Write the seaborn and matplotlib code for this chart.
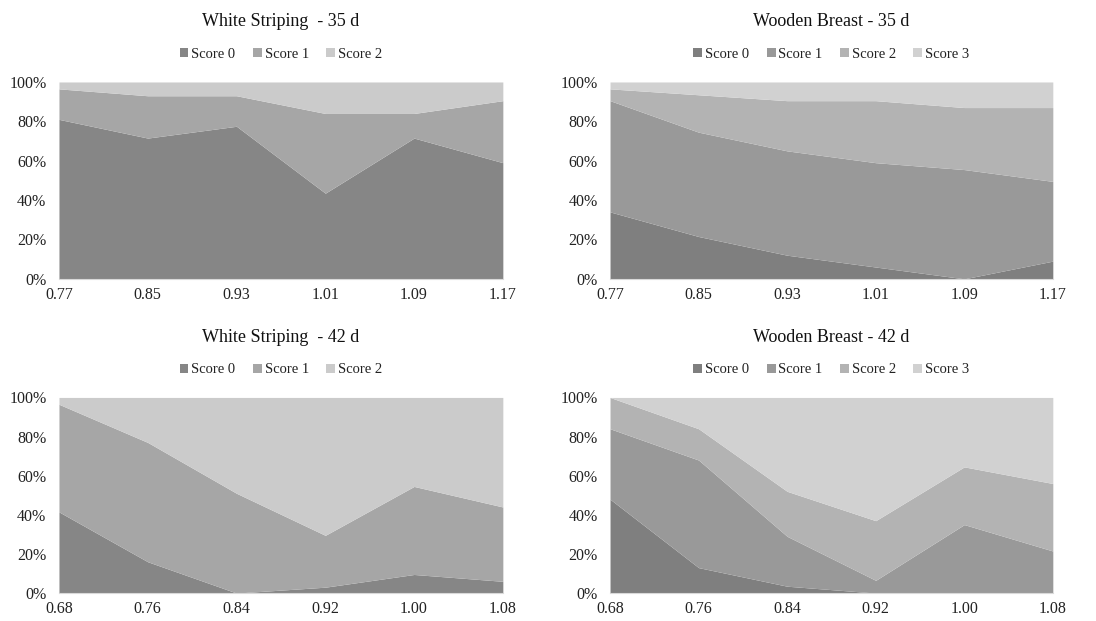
"""
Stacked area charts of myopathy score distribution by group.
"""
import numpy as np
import pandas as pd
import matplotlib.pyplot as plt
import seaborn as sns
from matplotlib.patches import Patch
from matplotlib.ticker import PercentFormatter

X_35 = ["0.77", "0.85", "0.93", "1.01", "1.09", "1.17"]
X_42 = ["0.68", "0.76", "0.84", "0.92", "1.00", "1.08"]

# percentages per score (each column sums to 100)
WS35_SCORE0 = [81.0, 71.5, 77.5, 43.5, 71.5, 59.0]
WS35_SCORE1 = [15.5, 21.5, 15.5, 40.5, 12.5, 31.5]
WS35_SCORE2 = [3.5, 7.0, 7.0, 16.0, 16.0, 9.5]

WB35_SCORE0 = [34.0, 21.5, 12.0, 6.0, 0.0, 9.0]
WB35_SCORE1 = [56.5, 53.0, 53.0, 53.0, 55.5, 40.5]
WB35_SCORE2 = [6.0, 19.0, 25.5, 31.5, 31.5, 37.5]
WB35_SCORE3 = [3.5, 6.5, 9.5, 9.5, 13.0, 13.0]

WS42_SCORE0 = [41.5, 16.0, 0.0, 3.0, 9.5, 6.0]
WS42_SCORE1 = [55.0, 61.0, 51.0, 26.5, 45.0, 38.0]
WS42_SCORE2 = [3.5, 23.0, 49.0, 70.5, 45.5, 56.0]

WB42_SCORE0 = [48.0, 13.0, 3.5, 0.0, 0.0, 0.0]
WB42_SCORE1 = [36.0, 55.0, 25.5, 6.5, 35.0, 21.5]
WB42_SCORE2 = [16.0, 16.0, 23.0, 30.5, 29.5, 34.5]
WB42_SCORE3 = [0.0, 16.0, 48.0, 63.0, 35.5, 44.0]

WS_COLORS = ["#868686", "#a6a6a6", "#cbcbcb"]
WB_COLORS = ["#7f7f7f", "#999999", "#b3b3b3", "#d1d1d1"]

sns.set_theme(style="white")
plt.rcParams["font.family"] = ["Liberation Serif", "DejaVu Serif"]


def draw_panel(ax, title, labels, series, colors):
    df = pd.DataFrame({f"Score {i}": s for i, s in enumerate(series)}, index=labels)
    pos = np.arange(len(labels))
    ax.stackplot(pos, *[df[c].values for c in df.columns], colors=colors, linewidth=0)
    ax.set_xlim(pos[0], pos[-1])
    ax.set_ylim(0, 100)
    ax.set_xticks(pos, labels)
    ax.set_yticks(range(0, 101, 20))
    ax.yaxis.set_major_formatter(PercentFormatter(decimals=0))
    ax.tick_params(axis="both", length=0, labelsize=11.5, colors="#222222")
    ax.tick_params(axis="x", pad=6)
    ax.tick_params(axis="y", pad=9)
    for side in ["top", "right", "left"]:
        ax.spines[side].set_visible(False)
    ax.spines["bottom"].set_color("#d9d9d9")
    ax.spines["bottom"].set_linewidth(0.8)
    ax.set_title(title, fontsize=13, pad=40, color="#111111")
    handles = [Patch(facecolor=c, edgecolor="none") for c in colors]
    ax.legend(handles, df.columns, loc="lower center", bbox_to_anchor=(0.5, 1.04),
              ncol=len(colors), frameon=False, fontsize=10.5, handlelength=0.6,
              handleheight=0.6, handletextpad=0.2, columnspacing=1.2,
              labelcolor="#222222")


fig = plt.figure(figsize=(10.96, 6.21), dpi=100)
ax1 = fig.add_axes([0.0538, 0.551, 0.405, 0.317])
ax2 = fig.add_axes([0.5566, 0.551, 0.404, 0.317])
ax3 = fig.add_axes([0.0538, 0.045, 0.405, 0.315])
ax4 = fig.add_axes([0.5566, 0.045, 0.404, 0.315])

draw_panel(ax1, "White Striping  - 35 d", X_35,
           [WS35_SCORE0, WS35_SCORE1, WS35_SCORE2], WS_COLORS)
draw_panel(ax2, "Wooden Breast - 35 d", X_35,
           [WB35_SCORE0, WB35_SCORE1, WB35_SCORE2, WB35_SCORE3], WB_COLORS)
draw_panel(ax3, "White Striping  - 42 d", X_42,
           [WS42_SCORE0, WS42_SCORE1, WS42_SCORE2], WS_COLORS)
draw_panel(ax4, "Wooden Breast - 42 d", X_42,
           [WB42_SCORE0, WB42_SCORE1, WB42_SCORE2, WB42_SCORE3], WB_COLORS)

fig.savefig("out.png", dpi=100)
plt.close()
